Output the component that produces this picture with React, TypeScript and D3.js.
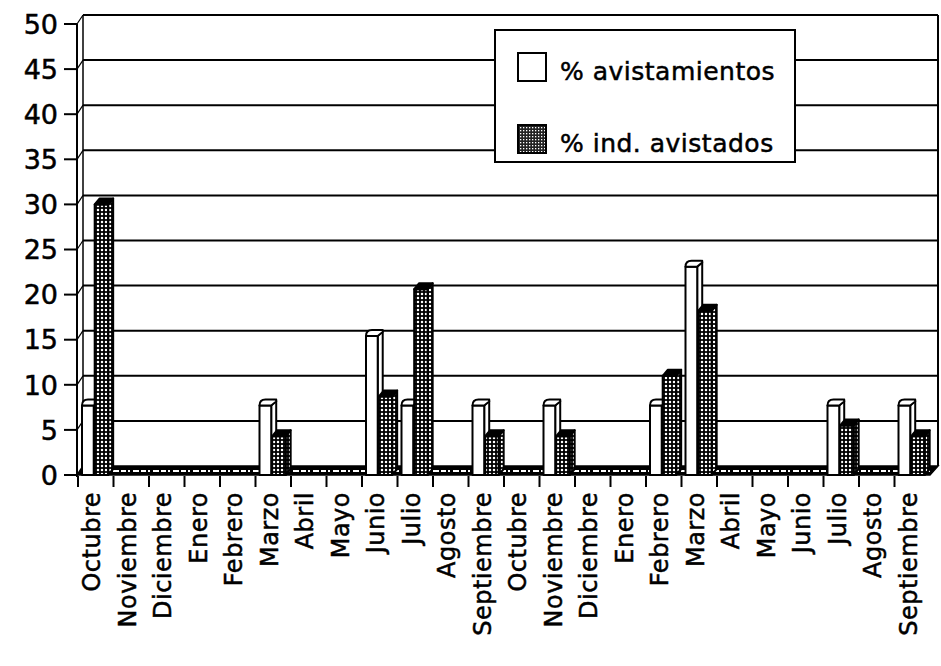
import React, { useEffect, useRef } from 'react';
import * as d3 from 'd3';

const months = [
  'Octubre', 'Noviembre', 'Diciembre', 'Enero', 'Febrero', 'Marzo', 'Abril', 'Mayo', 'Junio', 'Julio', 'Agosto', 'Septiembre',
  'Octubre', 'Noviembre', 'Diciembre', 'Enero', 'Febrero', 'Marzo', 'Abril', 'Mayo', 'Junio', 'Julio', 'Agosto', 'Septiembre',
];
const avistamientos = [7.7, 0, 0, 0, 0, 7.7, 0, 0, 15.4, 7.7, 0, 7.7, 0, 7.7, 0, 0, 7.7, 23.1, 0, 0, 0, 7.7, 0, 7.7];
const indAvistados = [30, 0, 0, 0, 0, 4.3, 0, 0, 8.7, 20.6, 0, 4.3, 0, 4.3, 0, 0, 11, 18.2, 0, 0, 0, 5.5, 0, 4.3];
const yTicks = [0, 5, 10, 15, 20, 25, 30, 35, 40, 45, 50];
const legendLabels = ['% avistamientos', '% ind. avistados'];

const W = 941;
const H = 666;
const DX = 6; // depth offset of the back wall
const DY = -9;

const App: React.FC = () => {
  const ref = useRef<SVGSVGElement>(null);

  useEffect(() => {
    const svg = d3.select(ref.current);
    svg.html('');
    svg.attr('width', W).attr('height', H);

    const font = '"DejaVu Sans", sans-serif';

    const defs = svg.append('defs');
    const dots = defs.append('pattern').attr('id', 'dots')
      .attr('patternUnits', 'userSpaceOnUse').attr('width', 4).attr('height', 4);
    dots.append('rect').attr('width', 4).attr('height', 4).attr('fill', '#000');
    dots.append('circle').attr('cx', 2).attr('cy', 2).attr('r', 1.25).attr('fill', '#fff');
    const fine = defs.append('pattern').attr('id', 'fine')
      .attr('patternUnits', 'userSpaceOnUse').attr('width', 3).attr('height', 3);
    fine.append('rect').attr('width', 3).attr('height', 3).attr('fill', '#222');
    fine.append('rect').attr('x', 1).attr('y', 1).attr('width', 1.3).attr('height', 1.3).attr('fill', '#fff');

    const y = d3.scaleLinear().domain([0, 50]).range([475, 24]);
    const x = d3.scaleBand<number>().domain(d3.range(months.length)).range([78, 930]).paddingInner(0).paddingOuter(0);
    const bw = x.bandwidth();
    const left = 77;
    const right = 930;

    // back wall gridlines
    const g = svg.append('g');
    yTicks.forEach(t => {
      if (t === 0) return;
      g.append('line')
        .attr('x1', left + DX).attr('x2', right + DX + 2)
        .attr('y1', y(t) + DY).attr('y2', y(t) + DY)
        .attr('stroke', '#000').attr('stroke-width', 2);
      g.append('line')
        .attr('x1', left).attr('x2', left + DX)
        .attr('y1', y(t)).attr('y2', y(t) + DY)
        .attr('stroke', '#000').attr('stroke-width', 1.2);
    });
    // walls
    g.append('line').attr('x1', left + DX).attr('x2', left + DX)
      .attr('y1', y(50) + DY).attr('y2', y(0) + DY).attr('stroke', '#000').attr('stroke-width', 1.5);
    g.append('line').attr('x1', right + DX + 2).attr('x2', right + DX + 2)
      .attr('y1', y(50) + DY).attr('y2', y(0) + DY).attr('stroke', '#000').attr('stroke-width', 2);
    g.append('line').attr('x1', left).attr('x2', left)
      .attr('y1', y(50)).attr('y2', y(0) + 2).attr('stroke', '#000').attr('stroke-width', 2);

    // floor
    g.append('path')
      .attr('d', `M${left},${y(0)}L${left + DX},${y(0) + DY}L${right + DX + 2},${y(0) + DY}L${right},${y(0)}Z`)
      .attr('fill', '#000').attr('stroke', '#000').attr('stroke-width', 1.5);
    g.append('line')
      .attr('x1', left + 4).attr('x2', right)
      .attr('y1', y(0) - 4).attr('y2', y(0) - 4)
      .attr('stroke', '#fff').attr('stroke-width', 2.2).attr('stroke-dasharray', '5,2,2,3,6,2');

    // y axis ticks + labels
    yTicks.forEach(t => {
      g.append('line').attr('x1', 64).attr('x2', left).attr('y1', y(t)).attr('y2', y(t))
        .attr('stroke', '#000').attr('stroke-width', 2);
      g.append('text').attr('x', 58).attr('y', y(t)).attr('dy', '0.36em')
        .attr('text-anchor', 'end').attr('font-family', font).attr('font-size', 27)
        .attr('stroke', '#000').attr('stroke-width', 0.5)
        .text(t);
    });

    // x ticks + labels
    months.forEach((m, i) => {
      const x0 = x(i)!;
      g.append('line').attr('x1', x0).attr('x2', x0).attr('y1', y(0) + 1).attr('y2', y(0) + 12)
        .attr('stroke', '#000').attr('stroke-width', 2);
      g.append('text')
        .attr('transform', `translate(${x0 + 22},${y(0) + 17}) rotate(-90)`)
        .attr('text-anchor', 'end').attr('font-family', font).attr('font-size', 24)
        .attr('letter-spacing', 0.5).attr('stroke', '#000').attr('stroke-width', 0.5)
        .text(m);
    });

    // 3D bars
    const bx = 5;
    const by = -6;
    const drawBar = (x0: number, wdt: number, v: number, pattern: boolean) => {
      const yt = y(v);
      const yb = y(0);
      const x1 = x0 + wdt;
      const bar = g.append('g')
        .attr('stroke', '#000').attr('stroke-width', 2).attr('stroke-linejoin', 'round');
      bar.append('path')
        .attr('d', `M${x1},${yb}L${x1 + bx},${yb + by}L${x1 + bx},${yt + by}L${x1},${yt}Z`)
        .attr('fill', pattern ? 'url(#dots)' : '#fff');
      bar.append('rect').attr('x', x0).attr('y', yt).attr('width', wdt).attr('height', yb - yt)
        .attr('fill', pattern ? 'url(#dots)' : '#fff');
      bar.append('path')
        .attr('d', pattern
          ? `M${x0},${yt}L${x0 + bx},${yt + by}L${x1 + bx},${yt + by}L${x1},${yt}Z`
          : `M${x0},${yt}Q${x0},${yt + by} ${x0 + bx + 1},${yt + by}L${x1 + bx - 1},${yt + by}Q${x1 + bx},${yt + by} ${x1 + bx},${yt + by + 2}L${x1},${yt}Z`)
        .attr('fill', pattern ? '#000' : '#fff');
    };

    months.forEach((_, i) => {
      const x0 = x(i)!;
      if (avistamientos[i] > 0) drawBar(x0 + 4, bw * 0.33, avistamientos[i], false);
      if (indAvistados[i] > 0) drawBar(x0 + bw * 0.47, bw * 0.38, indAvistados[i], true);
    });

    // legend
    const lg = svg.append('g');
    lg.append('rect').attr('x', 495).attr('y', 30).attr('width', 300).attr('height', 132)
      .attr('fill', '#fff').attr('stroke', '#000').attr('stroke-width', 2);
    legendLabels.forEach((lab, i) => {
      const ly = 53 + i * 72;
      lg.append('rect').attr('x', 518).attr('y', ly).attr('width', 28).attr('height', 28)
        .attr('fill', i === 0 ? '#fff' : 'url(#fine)').attr('stroke', '#000').attr('stroke-width', 2);
      lg.append('text').attr('x', 560).attr('y', ly + 27)
        .attr('font-family', font).attr('font-size', 25).attr('letter-spacing', 0.5)
        .attr('stroke', '#000').attr('stroke-width', 0.5)
        .text(lab);
    });
  }, []);

  return <svg ref={ref} style={{ position: 'absolute', left: 0, top: 0, background: '#fff' }}></svg>;
};

export default App;
